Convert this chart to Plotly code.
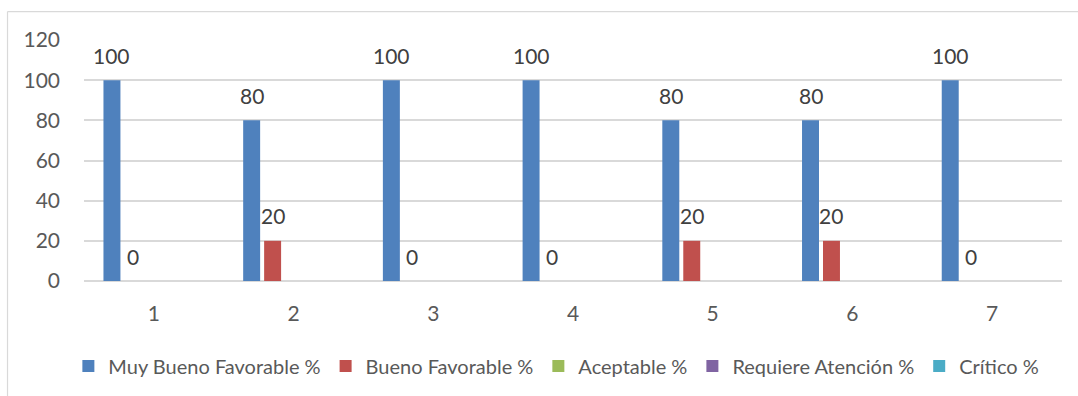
import plotly.graph_objects as go

categories = ["1", "2", "3", "4", "5", "6", "7"]
muy_bueno = [100, 80, 100, 100, 80, 80, 100]
bueno = [0, 20, 0, 0, 20, 20, 0]
aceptable = [0, 0, 0, 0, 0, 0, 0]
requiere = [0, 0, 0, 0, 0, 0, 0]
critico = [0, 0, 0, 0, 0, 0, 0]
series_names = ["Muy Bueno Favorable %", "Bueno Favorable %", "Aceptable %",
                "Requiere Atención %", "Crítico %"]
y_ticks = [0, 20, 40, 60, 80, 100, 120]

colors = ["#4f81bd", "#c0504d", "#9bbb59", "#8064a2", "#4bacc6"]
font_family = "Lato, 'Open Sans', sans-serif"
txt_color = "#404040"
tick_color = "#595959"
FS = 21
LFS = 20

W, H = 1078, 396
ML, MR, MT, MB = 84, 16, 40, 115
BARGAP, GROUPGAP = 0.25, 0.19

fig = go.Figure()
data = [muy_bueno, bueno, aceptable, requiere, critico]
for i, (name, vals) in enumerate(zip(series_names, data)):
    fig.add_trace(go.Bar(
        x=categories, y=vals, name=name,
        marker=dict(color=colors[i], line=dict(width=0)),
    ))

# data labels for the first two series (as in the reference)
plot_w = W - ML - MR
slot = plot_w / len(categories) * (1 - BARGAP) / len(data)
annotations = []
for s in range(2):
    xshift = (s - (len(data) - 1) / 2) * slot
    for idx, v in enumerate(data[s]):
        annotations.append(dict(
            x=idx, y=v, xref="x", yref="y", text=str(v), showarrow=False,
            xshift=xshift, yshift=25, xanchor="center", yanchor="middle",
            font=dict(family=font_family, size=FS, color=txt_color),
        ))

fig.update_layout(
    width=W, height=H,
    margin=dict(l=ML, r=MR, t=MT, b=MB, autoexpand=False),
    paper_bgcolor="white", plot_bgcolor="white",
    barmode="group", bargap=BARGAP, bargroupgap=GROUPGAP,
    font=dict(family=font_family, size=FS, color=tick_color),
    showlegend=True,
    legend=dict(orientation="h", x=0.483, xanchor="center", y=-0.353, yanchor="middle",
                font=dict(family=font_family, size=LFS, color=tick_color),
                itemwidth=30, tracegroupgap=0),
    xaxis=dict(showgrid=False, showline=False, ticks="", ticklabelstandoff=18,
               tickfont=dict(size=FS, color=tick_color)),
    yaxis=dict(range=[0, 120], tickvals=y_ticks, showgrid=True, gridcolor="#d9d9d9",
               gridwidth=1.5, zeroline=True, zerolinecolor="#d9d9d9", zerolinewidth=1.5,
               showline=False, ticks="", ticklabelstandoff=23,
               tickfont=dict(size=FS, color=tick_color)),
    annotations=annotations,
    shapes=[
        dict(type="line", xref="paper", yref="paper", x0=-0.0782, x1=1.1, y0=1.118, y1=1.118,
             line=dict(color="#d9d9d9", width=1.2)),
        dict(type="line", xref="paper", yref="paper", x0=-0.0782, x1=-0.0782, y0=1.118, y1=-0.6,
             line=dict(color="#d9d9d9", width=1.2)),
    ],
)

fig.write_html("out.html")
